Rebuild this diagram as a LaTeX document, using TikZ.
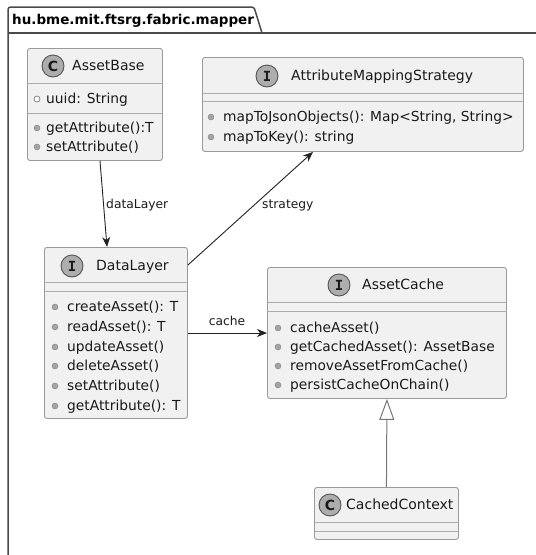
\documentclass[tikz,border=0pt]{standalone}
\usepackage{fontspec}
\setmainfont{DejaVu Sans}
\newfontfamily\badgemono{DejaVu Sans Mono}
\usetikzlibrary{arrows.meta,calc}
\definecolor{boxfill}{HTML}{F1F1F1}
\definecolor{boxline}{HTML}{9A9A9A}
\definecolor{sepline}{HTML}{ABABAB}
\definecolor{badgefill}{HTML}{ADADAD}
\definecolor{badgeline}{HTML}{555555}
\definecolor{framecol}{HTML}{4A4A4A}
\definecolor{arrcol}{HTML}{222222}
\definecolor{dotfill}{HTML}{A4A4A4}
\definecolor{inhcol}{HTML}{777777}
\definecolor{textcol}{HTML}{1A1A1A}
\tikzset{
  classbox/.style={draw=boxline, fill=boxfill, rounded corners=2.5pt, line width=0.9pt, anchor=north west, inner sep=0pt},
  sepl/.style={draw=sepline, line width=1pt},
  badge/.style={circle, draw=badgeline, fill=badgefill, line width=0.9pt, minimum size=22pt, inner sep=0pt, text=textcol, font=\bfseries\fontsize{14}{14}\selectfont},
  badgeI/.style={badge, font=\badgemono\bfseries\fontsize{14}{14}\selectfont},
  hdr/.style={anchor=west, inner sep=0pt, text=textcol, font=\fontsize{14}{16}\selectfont, text height=10.5pt, text depth=2.5pt},
  member/.style={anchor=west, inner sep=0pt, text=textcol, font=\fontsize{13.8}{16}\selectfont, text height=10.5pt, text depth=2.5pt},
  mdot/.style={fill=dotfill, draw=dotfill!80!black, line width=0.4pt},
  odot/.style={fill=white, draw=dotfill!80!black, line width=0.8pt},
  lbl/.style={inner sep=0pt, text=textcol, font=\fontsize{12.3}{14}\selectfont},
  arr/.style={draw=arrcol, line width=0.9pt, -{Stealth[length=10pt,width=8pt,inset=3pt]}},
  inh/.style={draw=inhcol, line width=1pt, -{Triangle[open, length=21pt, width=15pt, fill=white]}},
  frame/.style={draw=framecol, line width=1.5pt}
}
\newcommand\umember[5]{%
  \draw[mdot] (#2,#4) circle (3pt);
  \node[member] (#1) at (#3,#4) {#5};}
\newcommand\omember[5]{%
  \draw[odot] (#2,#4) circle (3pt);
  \node[member] (#1) at (#3,#4) {#5};}
\begin{document}
\begin{tikzpicture}[x=1pt,y=-1pt]
\useasboundingbox (0,0) rectangle (536,555);
\fill[white] (0,0) rectangle (536,555);

% package frame
\draw[frame, rounded corners=2.5pt] (8,600) -- (8,7) -- (254,7) -- (262,33);
\draw[frame] (8,33) -- (600,33);
\node[anchor=west, inner sep=0pt, text=black, font=\bfseries\fontsize{13.5}{15}\selectfont] (pkg) at (12,20.5) {hu.bme.mit.ftsrg.fabric.mapper};

% AssetBase
\node[classbox, minimum width=135pt, minimum height=112pt] (AB) at (27,48) {};
\draw[sepl] ([yshift=-35pt]AB.north west) -- ([yshift=-35pt]AB.north east);
\draw[sepl] ([yshift=-65pt]AB.north west) -- ([yshift=-65pt]AB.north east);
\node[badge] (ABb) at (53,66) {C};
\node[hdr] (ABn) at (72,66) {AssetBase};
\omember{ab1}{37}{46}{99}{uuid: String}
\umember{ab2}{37}{46}{128}{getAttribute():T}
\umember{ab3}{37}{46}{147}{setAttribute()}

% AttributeMappingStrategy
\node[classbox, minimum width=321pt, minimum height=94pt] (AMS) at (202,57) {};
\draw[sepl] ([yshift=-36pt]AMS.north west) -- ([yshift=-36pt]AMS.north east);
\draw[sepl] ([yshift=-44pt]AMS.north west) -- ([yshift=-44pt]AMS.north east);
\node[badgeI] (AMSb) at (267,76) {I};
\node[hdr] (AMSn) at (291,76) {AttributeMappingStrategy};
\umember{am1}{211}{223}{117}{mapToJsonObjects(): Map<String, String>}
\umember{am2}{211}{223}{137}{mapToKey(): string}

% DataLayer
\node[classbox, minimum width=143pt, minimum height=171pt] (DL) at (44,247) {};
\draw[sepl] ([yshift=-35pt]DL.north west) -- ([yshift=-35pt]DL.north east);
\draw[sepl] ([yshift=-44pt]DL.north west) -- ([yshift=-44pt]DL.north east);
\node[badgeI] (DLb) at (72,266) {I};
\node[hdr] (DLn) at (96,266) {DataLayer};
\umember{dl1}{55}{67}{307}{createAsset(): T}
\umember{dl2}{55}{67}{327}{readAsset(): T}
\umember{dl3}{55}{67}{347}{updateAsset()}
\umember{dl4}{55}{67}{366}{deleteAsset()}
\umember{dl5}{55}{67}{386}{setAttribute()}
\umember{dl6}{55}{67}{406}{getAttribute(): T}

% AssetCache
\node[classbox, minimum width=239pt, minimum height=131pt] (AC) at (267,267) {};
\draw[sepl] ([yshift=-35pt]AC.north west) -- ([yshift=-35pt]AC.north east);
\draw[sepl] ([yshift=-44pt]AC.north west) -- ([yshift=-44pt]AC.north east);
\node[badgeI] (ACb) at (339,285) {I};
\node[hdr] (ACn) at (362,285) {AssetCache};
\umember{ac1}{278}{290}{328}{cacheAsset()}
\umember{ac2}{278}{290}{347}{getCachedAsset(): AssetBase}
\umember{ac3}{278}{290}{366}{removeAssetFromCache()}
\umember{ac4}{278}{290}{385}{persistCacheOnChain()}

% CachedContext
\node[classbox, minimum width=144pt, minimum height=52pt] (CC) at (314,487) {};
\draw[sepl] ([yshift=-35pt]CC.north west) -- ([yshift=-35pt]CC.north east);
\draw[sepl] ([yshift=-44pt]CC.north west) -- ([yshift=-44pt]CC.north east);
\node[badge] (CCb) at (330,505) {C};
\node[hdr] (CCn) at (346,505) {CachedContext};

% connectors
\draw[arr] ([xshift=73pt]AB.south west) -- ([xshift=63pt]DL.north west);
\node[lbl, anchor=west] (l1) at (106,205) {dataLayer};
\draw[arr] ([yshift=-18pt]DL.north east) -- ([xshift=111pt]AMS.south west);
\node[lbl, anchor=west] (l2) at (262,205) {strategy};
\draw[arr] ([yshift=-86pt]DL.north east) -- ([yshift=-66pt]AC.north west);
\node[lbl] (l3) at (227,321) {cache};
\draw[inh] (CC.north) -- (AC.south);
\end{tikzpicture}
\end{document}
